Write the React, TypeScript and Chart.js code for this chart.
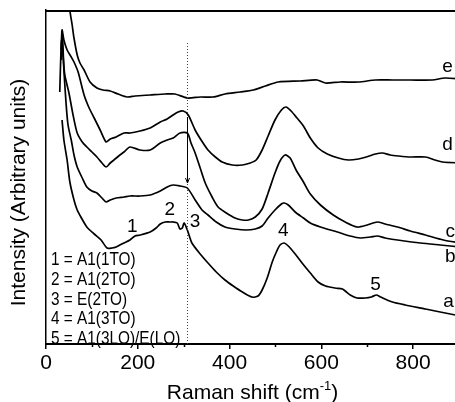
import React, { useEffect, useRef } from 'react';
import { Chart, registerables } from 'chart.js';

Chart.register(...registerables);

// Raman shift (cm-1) and intensity (arbitrary units) for each spectrum
const shiftA = [35,39,46,52,61,68,76,89,105,120,133,144,153,161,170,183,194,205,227,240,249,260,270,277,286,292,297,301,308,318,336,353,371,390,408,428,449,462,471,482,493,502,510,519,528,543,558,576,593,609,630,646,652,663,678,696,709,720,729,755,783,827,859,892,903];
const intensityA = [224,204,184,162,144,134,127,117,110,104,96,96,97,99,101,104,108,109,112,116,120,122,122,122,121,115,116,121,114,101,90,81,72,64,58,52,47,48,54,66,82,92,99,101,98,90,81,71,62,58,56,55,53,49,46,46,47,49,47,42,39,35,32,29,28];

const shiftB = [33,36,39,44,48,55,61,68,79,89,100,111,122,131,140,153,170,183,205,227,249,264,277,292,308,325,340,353,371,390,412,436,456,471,484,499,513,519,528,543,561,576,598,635,663,685,707,722,739,766,816,859,903];
const intensityB = [284,306,274,239,219,204,189,177,166,157,153,151,146,142,144,146,147,148,148,149,153,157,159,158,156,144,134,129,122,117,115,114,115,118,126,134,140,141,139,132,126,121,117,112,108,106,107,108,106,104,101,99,97];

const shiftC = [30,32,34,37,41,50,59,68,79,89,100,111,122,131,140,148,161,170,183,205,227,249,264,277,292,308,316,325,336,347,362,375,393,412,428,441,456,471,484,499,510,521,532,545,561,576,598,626,652,678,700,722,739,766,794,827,866,903];
const intensityC = [252,284,304,289,269,251,229,211,202,197,192,187,181,177,181,184,189,192,197,194,194,201,204,206,211,211,201,191,176,161,147,137,131,126,124,124,127,135,151,171,183,189,186,174,162,150,139,129,122,117,119,122,120,117,113,109,104,101];

const shiftD = [33,35,39,46,55,61,70,83,94,105,118,131,140,153,170,183,205,227,249,264,277,288,299,310,325,338,353,369,384,406,428,445,458,471,484,499,513,523,534,547,561,576,593,613,637,659,681,698,718,733,750,768,794,827,848,864,903];
const intensityD = [294,314,304,294,287,282,272,249,236,226,214,202,205,207,211,211,213,216,222,225,229,232,233,229,214,204,194,187,182,179,179,181,184,194,208,224,234,237,233,226,218,206,196,190,186,184,185,187,190,191,189,188,187,187,184,182,181];

const shiftE = [48,52,57,61,68,74,83,96,111,124,140,157,177,194,227,260,281,308,336,364,390,423,452,478,506,554,591,609,641,681,718,755,794,842,870,903];
const intensityE = [364,334,319,306,289,281,274,262,256,254,253,250,247,248,249,250,250,246,247,247,250,252,254,258,262,263,264,261,262,262,264,264,264,264,266,265];

// Spectrum labels (a..e) and where they sit
const spectrumLabels = ['a', 'b', 'c', 'd', 'e'];
const spectrumLabelShift = [877, 881, 881, 875, 875];
const spectrumLabelY = [40, 85, 110, 197, 275];

// Peak numbers
const peakNumbers = ['1', '2', '3', '4', '5'];
const peakShift = [188, 270, 325, 517, 718];
const peakY = [117, 134, 122, 113, 59];

// Mode assignments
const modeLines = ['1 = A1(1TO)', '2 = A1(2TO)', '3 = E(2TO)', '4 = A1(3TO)', '5 = A1(3LO)/E(LO)'];

// Marker line at the E(2TO) position
const markerShift = 308;
const markerTop = 301;
const arrowFrom = 227;
const arrowTo = 161;

// Axis ticks
const majorTicks = [0, 200, 400, 600, 800];
const minorTicks = [100, 300, 500, 700];

const FONT = '"Liberation Sans", Arial, Helvetica, sans-serif';

const series = [
  [shiftA, intensityA],
  [shiftB, intensityB],
  [shiftC, intensityC],
  [shiftD, intensityD],
  [shiftE, intensityE],
];

const overlay = {
  id: 'overlay',
  afterDraw(chart: any) {
    const { ctx, chartArea: ca, scales } = chart;
    const x = scales.x;
    const y = scales.y;
    ctx.save();
    ctx.strokeStyle = '#000';
    ctx.fillStyle = '#000';
    // top frame
    ctx.lineWidth = 2;
    ctx.beginPath();
    ctx.moveTo(ca.left - 1, ca.top + 1);
    ctx.lineTo(ca.right, ca.top + 1);
    ctx.stroke();
    // minor ticks
    ctx.lineWidth = 1.5;
    minorTicks.forEach((v) => {
      const px = Math.round(x.getPixelForValue(v)) + 0.5;
      ctx.beginPath();
      ctx.moveTo(px, ca.bottom);
      ctx.lineTo(px, ca.bottom + 3);
      ctx.stroke();
    });
    // dotted marker
    const mx = Math.round(x.getPixelForValue(markerShift)) + 0.5;
    ctx.strokeStyle = '#444';
    ctx.lineWidth = 1;
    ctx.setLineDash([1, 2]);
    ctx.beginPath();
    ctx.moveTo(mx, y.getPixelForValue(markerTop));
    ctx.lineTo(mx, ca.bottom);
    ctx.stroke();
    ctx.setLineDash([]);
    // solid arrow
    ctx.strokeStyle = '#000';
    const ay1 = y.getPixelForValue(arrowFrom);
    const ay2 = y.getPixelForValue(arrowTo);
    ctx.beginPath();
    ctx.moveTo(mx, ay1);
    ctx.lineTo(mx, ay2);
    ctx.stroke();
    ctx.beginPath();
    ctx.moveTo(mx - 2, ay2 - 5);
    ctx.lineTo(mx, ay2);
    ctx.lineTo(mx + 2, ay2 - 5);
    ctx.stroke();
    // peak numbers
    ctx.textAlign = 'center';
    ctx.textBaseline = 'middle';
    ctx.font = '19px ' + FONT;
    peakNumbers.forEach((t, i) => {
      ctx.fillText(t, x.getPixelForValue(peakShift[i]), y.getPixelForValue(peakY[i]));
    });
    // spectrum letters
    ctx.font = '19px ' + FONT;
    spectrumLabels.forEach((t, i) => {
      ctx.fillText(t, x.getPixelForValue(spectrumLabelShift[i]), y.getPixelForValue(spectrumLabelY[i]) - 2);
    });
    // mode assignment list
    ctx.textAlign = 'left';
    ctx.textBaseline = 'alphabetic';
    ctx.font = '18.5px ' + FONT;
    modeLines.forEach((t, i) => {
      ctx.save();
      ctx.translate(ca.left + 5, ca.bottom - 79 + i * 19.75);
      ctx.scale(0.83, 1);
      ctx.fillText(t, 0, 0);
      ctx.restore();
    });
    // y title
    ctx.save();
    ctx.font = '21px ' + FONT;
    ctx.translate(25, 192.5);
    ctx.rotate(-Math.PI / 2);
    ctx.textAlign = 'center';
    ctx.textBaseline = 'alphabetic';
    ctx.fillText('Intensity (Arbitrary units)', 0, 0);
    ctx.restore();
    // x title with superscript
    const main = 'Raman shift (cm';
    const sup = '-1';
    const close = ')';
    ctx.font = '21px ' + FONT;
    const w1 = ctx.measureText(main).width;
    const w3 = ctx.measureText(close).width;
    ctx.font = '13px ' + FONT;
    const w2 = ctx.measureText(sup).width;
    const total = w1 + w2 + w3;
    const cx = (ca.left + ca.right) / 2;
    let sx = cx - total / 2;
    const base = 398.5;
    ctx.textAlign = 'left';
    ctx.font = '21px ' + FONT;
    ctx.fillText(main, sx, base);
    sx += w1;
    ctx.font = '13px ' + FONT;
    ctx.fillText(sup, sx, base - 9);
    sx += w2;
    ctx.font = '21px ' + FONT;
    ctx.fillText(close, sx, base);
    ctx.restore();
  },
};

export default function App() {
  const ref = useRef<HTMLCanvasElement | null>(null);
  useEffect(() => {
    if (!ref.current) return;
    const chart = new Chart(ref.current, {
      type: 'line',
      data: {
        datasets: series.map(([xs, ys], i) => ({
          label: spectrumLabels[i],
          data: xs.map((v, k) => ({ x: v, y: ys[k] })),
          borderColor: '#000',
          borderWidth: 1.7,
          pointRadius: 0,
          fill: false,
          tension: 0.25,
        })),
      },
      options: {
        animation: false,
        responsive: false,
        devicePixelRatio: 1,
        layout: { padding: { top: 10, left: 0, right: 3, bottom: 0 } },
        plugins: { legend: { display: false }, tooltip: { enabled: false }, title: { display: false } },
        scales: {
          x: {
            type: 'linear',
            position: 'bottom',
            min: 0,
            max: 900,
            afterFit: (s: any) => { s.height = 58; },
            afterBuildTicks: (s: any) => { s.ticks = majorTicks.map((v) => ({ value: v })); },
            ticks: {
              color: '#000',
              padding: 2,
              maxRotation: 0,
              autoSkip: false,
              font: { family: FONT, size: 21 },
              callback: (v: any) => String(v),
            },
            grid: { drawOnChartArea: false, drawTicks: true, tickLength: 5, color: '#000', lineWidth: 1.5 },
            border: { display: true, color: '#000', width: 2 },
          },
          y: {
            type: 'linear',
            min: 0,
            max: 334,
            afterFit: (s: any) => { s.width = 46; },
            ticks: { display: false },
            grid: { drawOnChartArea: false, drawTicks: false },
            border: { display: true, color: '#000', width: 1.5 },
          },
        },
      },
      plugins: [overlay],
    } as any);
    return () => chart.destroy();
  }, []);
  return (
    <div style={{ position: 'absolute', left: 0, top: 0, width: 455, height: 402, overflow: 'hidden', background: '#fff' }}>
      <canvas ref={ref} width={462} height={402} style={{ display: 'block', width: 462, height: 402 }} />
    </div>
  );
}
